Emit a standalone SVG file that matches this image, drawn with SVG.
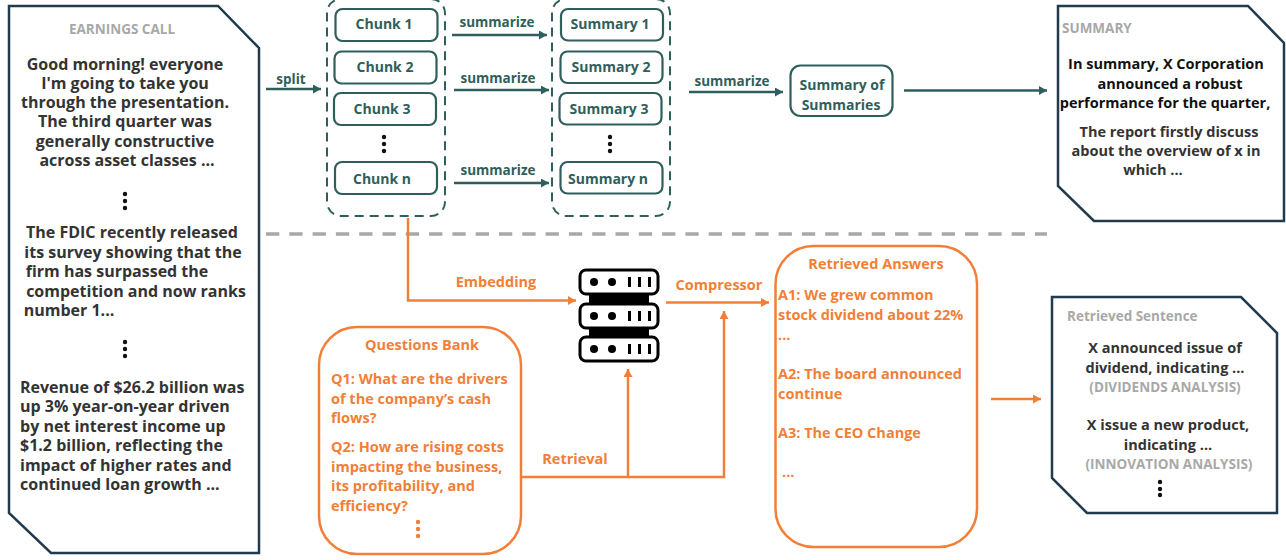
<svg xmlns="http://www.w3.org/2000/svg" width="1286" height="560" viewBox="0 0 1286 560">
<defs>
<marker id="at" markerUnits="userSpaceOnUse" markerWidth="10" markerHeight="10" refX="8" refY="4.5" orient="auto"><path d="M0 0L8 4.5L0 9Z" fill="#2f5f5c"/></marker>
<marker id="ao" markerUnits="userSpaceOnUse" markerWidth="10" markerHeight="10" refX="8" refY="4.5" orient="auto"><path d="M0 0L8 4.5L0 9Z" fill="#f27f37"/></marker>
</defs>
<style>
text{font-family:"Open Sans","Liberation Sans",sans-serif;font-weight:700}
.d{fill:#333;font-size:16px;text-anchor:middle}
.dl{fill:#333;font-size:16px}
.g{fill:#a8a8a8;font-size:13.5px}
.t{fill:#2f5f5c;font-size:14px;text-anchor:middle}
.o{fill:#f27f37;font-size:14.5px}
.om{fill:#f27f37;font-size:14.5px;text-anchor:middle}
.k{fill:#111;font-size:14.5px;text-anchor:middle}
.s{fill:#333;font-size:14.5px;text-anchor:middle}
.doc{fill:#fff;stroke:#1f3b4d;stroke-width:2.5}
.box{fill:#fff;stroke:#2f5f5c;stroke-width:2.2}
.dash{fill:none;stroke:#2f5f5c;stroke-width:2;stroke-dasharray:9 6}
.ct{fill:none;stroke:#2f5f5c;stroke-width:2.5;marker-end:url(#at)}
.co{fill:none;stroke:#f27f37;stroke-width:2.5;marker-end:url(#ao)}
.ol{fill:none;stroke:#f27f37;stroke-width:2.5}
.ob{fill:#fff;stroke:#f27f37;stroke-width:2.5}
</style>
<g id="earnings-call">
<path class="doc" d="M9 6H218L259 48V553H51L9 513Z"/>
<text x="122" y="34" text-anchor="middle" class="g">EARNINGS CALL</text>
<text class="d" x="125" y="70">Good morning! everyone</text>
<text class="d" x="125" y="89">I'm going to take you</text>
<text class="d" x="125" y="108">through the presentation.</text>
<text class="d" x="125" y="127">The third quarter was</text>
<text class="d" x="125" y="147">generally constructive</text>
<text class="d" x="127" y="166">across asset classes ...</text>
<g fill="#111"><circle cx="125" cy="194" r="2.2"/><circle cx="125" cy="201" r="2.2"/><circle cx="125" cy="208" r="2.2"/></g>
<text class="d" x="132" y="238">The FDIC recently released</text>
<text class="d" x="133" y="258">its survey showing that the</text>
<text class="d" x="117" y="277">firm has surpassed the</text>
<text class="d" x="136" y="297">competition and now ranks</text>
<text class="d" x="69" y="316">number 1...</text>
<g fill="#111"><circle cx="125" cy="342" r="2.2"/><circle cx="125" cy="349" r="2.2"/><circle cx="125" cy="356" r="2.2"/></g>
<text class="dl" x="20" y="393">Revenue of $26.2 billion was</text>
<text class="dl" x="20" y="412">up 3% year-on-year driven</text>
<text class="dl" x="20" y="432">by net interest income up</text>
<text class="dl" x="20" y="451">$1.2 billion, reflecting the</text>
<text class="dl" x="20" y="471">impact of higher rates and</text>
<text class="dl" x="20" y="490">continued loan growth ...</text>
</g>
<g id="chunks">
<rect class="dash" x="327" y="-1" width="118" height="217" rx="14"/>
<rect class="box" x="335.500" y="9" width="102" height="32" rx="7"/>
<text class="t" x="384" y="29">Chunk 1</text>
<rect class="box" x="334.500" y="51.500" width="102" height="32" rx="7"/>
<text class="t" x="385" y="72">Chunk 2</text>
<rect class="box" x="334" y="93" width="102" height="32" rx="7"/>
<text class="t" x="382" y="114">Chunk 3</text>
<g fill="#111"><circle cx="384" cy="137" r="2.2"/><circle cx="384" cy="144" r="2.2"/><circle cx="384" cy="151" r="2.2"/></g>
<rect class="box" x="335" y="162" width="102" height="32" rx="7"/>
<text class="t" x="382" y="184">Chunk n</text>
</g>
<g id="summaries">
<rect class="dash" x="552" y="-1" width="118" height="217" rx="14"/>
<rect class="box" x="561" y="9" width="102" height="31.500" rx="7"/>
<text class="t" x="610" y="29">Summary 1</text>
<rect class="box" x="560.500" y="51.500" width="102" height="31.500" rx="7"/>
<text class="t" x="611" y="72">Summary 2</text>
<rect class="box" x="559.500" y="93" width="102" height="31.500" rx="7"/>
<text class="t" x="609" y="114">Summary 3</text>
<g fill="#111"><circle cx="610" cy="137" r="2.2"/><circle cx="610" cy="144" r="2.2"/><circle cx="610" cy="151" r="2.2"/></g>
<rect class="box" x="560.500" y="162" width="102" height="31.500" rx="7"/>
<text class="t" x="608" y="184">Summary n</text>
</g>
<g id="summary-of-summaries">
<rect class="box" x="790.500" y="65.500" width="102" height="50.500" rx="10"/>
<text class="t" x="842" y="90">Summary of</text>
<text class="t" x="841" y="110">Summaries</text>
</g>
<g id="summary-doc">
<path class="doc" d="M1058 6H1248L1284 43V221H1094L1058 186Z"/>
<text class="g" x="1062" y="33">SUMMARY</text>
<text class="k" x="1166" y="69">In summary, X Corporation</text>
<text class="k" x="1170" y="89">announced a robust</text>
<text class="k" x="1165" y="108">performance for the quarter,</text>
<text class="s" x="1169" y="137">The report firstly discuss</text>
<text class="s" x="1166" y="156">about the overview of x in</text>
<text class="s" x="1153" y="175">which ...</text>
</g>
<g id="divider"><path d="M266 234H1047" fill="none" stroke="#a8a8a8" stroke-width="3.500" stroke-dasharray="13.300 10"/></g>
<g id="questions-bank">
<rect class="ob" x="319" y="327" width="202" height="227" rx="38"/>
<text class="om" x="422" y="350">Questions Bank</text>
<text class="o" x="331" y="384">Q1: What are the drivers</text>
<text class="o" x="331" y="404">of the company’s cash</text>
<text class="o" x="331" y="423">flows?</text>
<text class="o" x="331" y="452">Q2: How are rising costs</text>
<text class="o" x="331" y="472">impacting the business,</text>
<text class="o" x="331" y="491">its profitability, and</text>
<text class="o" x="331" y="511">efficiency?</text>
<g fill="#f27f37"><circle cx="418" cy="522" r="2.2"/><circle cx="418" cy="529" r="2.2"/><circle cx="418" cy="536" r="2.2"/></g>
</g>
<g id="vector-store">
<path d="M589 292H649V339H589Z" fill="#000"/>
<rect x="580" y="270" width="78" height="24" rx="6" fill="#fff" stroke="#000" stroke-width="3"/>
<rect x="580" y="304" width="78" height="24" rx="6" fill="#fff" stroke="#000" stroke-width="3"/>
<rect x="580" y="337" width="78" height="24" rx="6" fill="#fff" stroke="#000" stroke-width="3"/>
<g fill="#000">
<circle cx="594" cy="282" r="4"/><circle cx="612" cy="282" r="4"/>
<circle cx="594" cy="316" r="4"/><circle cx="612" cy="316" r="4"/>
<circle cx="594" cy="349" r="4"/><circle cx="612" cy="349" r="4"/>
<path d="M628 277h3v10h-3zM638 277h3v10h-3zM648 277h3v10h-3zM628 311h3v10h-3zM638 311h3v10h-3zM648 311h3v10h-3zM628 344h3v10h-3zM638 344h3v10h-3zM648 344h3v10h-3z"/>
</g>
</g>
<g id="retrieved-answers">
<rect class="ob" x="775.500" y="246" width="201.500" height="301" rx="38"/>
<text class="om" x="876" y="269">Retrieved Answers</text>
<text class="o" x="778" y="300">A1: We grew common</text>
<text class="o" x="778" y="320">stock dividend about 22%</text>
<text class="o" x="778" y="340">...</text>
<text class="o" x="778" y="379">A2: The board announced</text>
<text class="o" x="778" y="399">continue</text>
<text class="o" x="778" y="438">A3: The CEO Change</text>
<text class="o" x="782" y="477">...</text>
</g>
<g id="retrieved-sentence">
<path class="doc" d="M1052 297H1241L1277 333V513H1087L1052 478Z"/>
<text class="g" x="1067" y="321">Retrieved Sentence</text>
<text class="s" x="1165" y="353">X announced issue of</text>
<text class="s" x="1165" y="373">dividend, indicating ...</text>
<text class="g" x="1165" y="392" text-anchor="middle">(DIVIDENDS ANALYSIS)</text>
<text class="s" x="1168" y="430">X issue a new product,</text>
<text class="s" x="1168" y="450">indicating ...</text>
<text class="g" x="1169" y="469" text-anchor="middle">(INNOVATION ANALYSIS)</text>
<g fill="#111"><circle cx="1160" cy="482" r="2.2"/><circle cx="1160" cy="489" r="2.2"/><circle cx="1160" cy="495" r="2.2"/></g>
</g>
<g id="connectors">
<path class="ct" d="M266 89H321"/>
<path class="ct" d="M452 35H547"/>
<path class="ct" d="M454 90H549"/>
<path class="ct" d="M454 183H549"/>
<path class="ct" d="M689 92H783"/>
<path class="ct" d="M904 90.500H1047"/>
<path class="co" d="M408 218V300.500H576"/>
<path class="co" d="M666 302.500H769"/>
<path class="ol" d="M521 477H628"/>
<path class="co" d="M628 477V369"/>
<path class="co" d="M628 477H724V311"/>
<path class="co" d="M991 399H1041"/>
</g>
<g id="labels">
<text class="t" x="291" y="84" style="font-size:13.500px">split</text>
<text class="t" x="497" y="27" style="font-size:13.500px">summarize</text>
<text class="t" x="498" y="83" style="font-size:13.500px">summarize</text>
<text class="t" x="498" y="175" style="font-size:13.500px">summarize</text>
<text class="t" x="732" y="86" style="font-size:13.500px">summarize</text>
<text class="om" x="496" y="287">Embedding</text>
<text class="om" x="719" y="290">Compressor</text>
<text class="om" x="575" y="464">Retrieval</text>
</g>
</svg>
